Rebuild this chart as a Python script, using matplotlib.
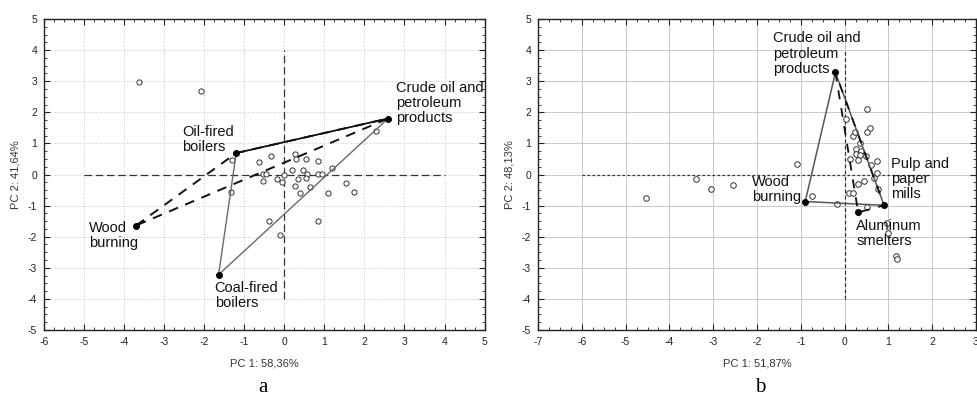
import matplotlib
matplotlib.use("Agg")
import matplotlib.pyplot as plt
from matplotlib.ticker import MultipleLocator

plt.rcParams['font.family'] = ['Liberation Sans', 'DejaVu Sans']
plt.rcParams['axes.unicode_minus'] = False

# ---- панель a ----
a_src_names = ["Crude oil and\npetroleum\nproducts", "Oil-fired\nboilers", "Wood\nburning", "Coal-fired\nboilers"]
a_src_x = [2.59, -1.20, -3.70, -1.64]
a_src_y = [1.80, 0.69, -1.64, -3.22]
a_lab_x = [2.78, -2.56, -4.87, -1.74]
a_lab_y = [2.70, 1.28, -1.78, -3.73]

a_pts_x = [-3.62, -2.07, -1.30, -1.33, -0.63, -0.33, -0.54, -0.46, -0.54, -0.18,
           -0.05, 0.00, -0.37, -0.11, 0.27, 0.28, 0.53, 0.19, 0.47, 0.57,
           0.34, 0.27, 0.53, 0.39, 0.63, 0.83, 0.83, 0.94, 1.18, 1.08,
           1.54, 1.73, 0.83, 2.30]
a_pts_y = [2.99, 2.69, 0.47, -0.55, 0.40, 0.58, 0.03, 0.03, -0.21, -0.14,
           -0.25, -0.02, -1.49, -1.93, 0.65, 0.50, 0.50, 0.13, 0.16, 0.03,
           -0.16, -0.36, -0.10, -0.58, -0.40, 0.44, 0.01, 0.03, 0.21, -0.60,
           -0.27, -0.55, -1.49, 1.40]

# ---- панель b ----
b_src_names = ["Crude oil and\npetroleum\nproducts", "Wood\nburning", "Pulp and\npaper\nmills", "Aluminum\nsmelters"]
b_src_x = [-0.21, -0.90, 0.90, 0.31]
b_src_y = [3.28, -0.87, -0.99, -1.22]
b_lab_x = [-1.64, -2.12, 1.06, 0.27]
b_lab_y = [4.30, -0.30, 0.27, -1.73]

b_pts_x = [-4.54, -3.40, -3.06, -2.54, -1.09, -0.75, -0.17, 0.50, 0.02, 0.59,
           0.50, 0.20, 0.23, 0.36, 0.25, 0.38, 0.26, 0.36, 0.48, 0.12,
           0.31, 0.60, 0.75, 0.73, 0.68, 0.77, 0.30, 0.44, 0.11, 0.18,
           0.51, 0.96, 1.00, 1.17, 1.20]
b_pts_y = [-0.74, -0.16, -0.46, -0.35, 0.33, -0.69, -0.94, 2.11, 1.80, 1.51,
           1.38, 1.24, 1.37, 1.02, 0.81, 0.75, 0.65, 0.62, 0.59, 0.51,
           0.48, 0.30, 0.43, 0.05, -0.12, -0.47, -0.29, -0.20, -0.59, -0.61,
           -1.04, -1.55, -1.88, -2.63, -2.72]


def setup_axes(ax, xlim, xlabel, ylabel, grid_ls):
    ax.set_xlim(*xlim)
    ax.set_ylim(-5, 5)
    ax.xaxis.set_major_locator(MultipleLocator(1))
    ax.yaxis.set_major_locator(MultipleLocator(1))
    ax.xaxis.set_minor_locator(MultipleLocator(0.25))
    ax.yaxis.set_minor_locator(MultipleLocator(0.25))
    ax.tick_params(which='both', direction='in', top=True, right=True,
                   labelsize=7.5, colors='#222222', pad=5)
    ax.tick_params(which='major', length=4, width=0.8)
    ax.tick_params(which='minor', length=2, width=0.6)
    ax.grid(True, which='major', color='#c8c8c8', linestyle=grid_ls, linewidth=0.7)
    ax.set_axisbelow(True)
    for s in ax.spines.values():
        s.set_linewidth(1.0)
        s.set_color('#222222')
    ax.set_xlabel(xlabel, fontsize=8, color='#333333', labelpad=8)
    ax.set_ylabel(ylabel, fontsize=8, color='#333333', labelpad=5)


fig = plt.figure(figsize=(9.77, 4.0), dpi=100)
axa = fig.add_axes([0.045, 0.175, 0.451, 0.7775])
axb = fig.add_axes([0.5507, 0.175, 0.4483, 0.7775])

# панель a
setup_axes(axa, (-6, 5), "PC 1: 58,36%", "PC 2: 41,64%", ':')
axa.plot([0, 0], [-4, 4], color='#333333', ls=(0, (6, 3)), lw=0.9)
axa.plot([-5, 4], [0, 0], color='#333333', ls=(0, (6, 3)), lw=0.9)
axa.scatter(a_pts_x, a_pts_y, s=14, facecolors='white', edgecolors='#333333', linewidths=0.7, zorder=3)
# сплошной треугольник: Oil-fired, Crude, Coal
tri = [1, 0, 3, 1]
axa.plot([a_src_x[i] for i in tri], [a_src_y[i] for i in tri], color='#6a6a6a', lw=1.0, zorder=4)
axa.plot([a_src_x[1], a_src_x[0]], [a_src_y[1], a_src_y[0]], color='#111111', lw=1.2, zorder=4)
# пунктирный треугольник: Wood, Oil-fired, Crude
tri2 = [2, 1, 0, 2]
axa.plot([a_src_x[i] for i in tri2], [a_src_y[i] for i in tri2], color='#111111', lw=1.4,
         ls=(0, (5, 4)), zorder=4)
axa.scatter(a_src_x, a_src_y, s=16, color='black', zorder=5)
for name, x, y in zip(a_src_names, a_lab_x, a_lab_y):
    axa.text(x, y + 0.3, name, fontsize=10.5, ha='left', va='top', linespacing=1.1,
             color='#111111')

# панель b
setup_axes(axb, (-7, 3), "PC 1: 51,87%", "PC 2: 48,13%", '-')
axb.plot([0, 0], [-4, 4], color='#333333', ls=(0, (3, 2)), lw=0.9)
axb.plot([-6, 2], [0, 0], color='#333333', ls=(0, (2, 2)), lw=0.9)
axb.scatter(b_pts_x, b_pts_y, s=16, facecolors='white', edgecolors='#333333', linewidths=0.7, zorder=3)
# сплошной треугольник: Crude, Wood, Pulp
tri = [0, 1, 2, 0]
axb.plot([b_src_x[i] for i in tri], [b_src_y[i] for i in tri], color='#555555', lw=1.1, zorder=4)
# пунктирный треугольник: Crude, Aluminum, Pulp
tri2 = [0, 3, 2, 0]
axb.plot([b_src_x[i] for i in tri2], [b_src_y[i] for i in tri2], color='#111111', lw=1.3,
         ls=(0, (5, 5)), zorder=4)
axb.scatter(b_src_x, b_src_y, s=16, color='black', zorder=5)
for name, x, y in zip(b_src_names, b_lab_x, b_lab_y):
    axb.text(x, y + 0.3, name, fontsize=10.5, ha='left', va='top', linespacing=1.1,
             color='#111111')

fig.text(0.269, 0.032, "a", fontsize=15, family=['Liberation Serif', 'DejaVu Serif'],
         ha='center', va='center')
fig.text(0.778, 0.032, "b", fontsize=15, family=['Liberation Serif', 'DejaVu Serif'],
         ha='center', va='center')

fig.savefig("out.png", dpi=100)
